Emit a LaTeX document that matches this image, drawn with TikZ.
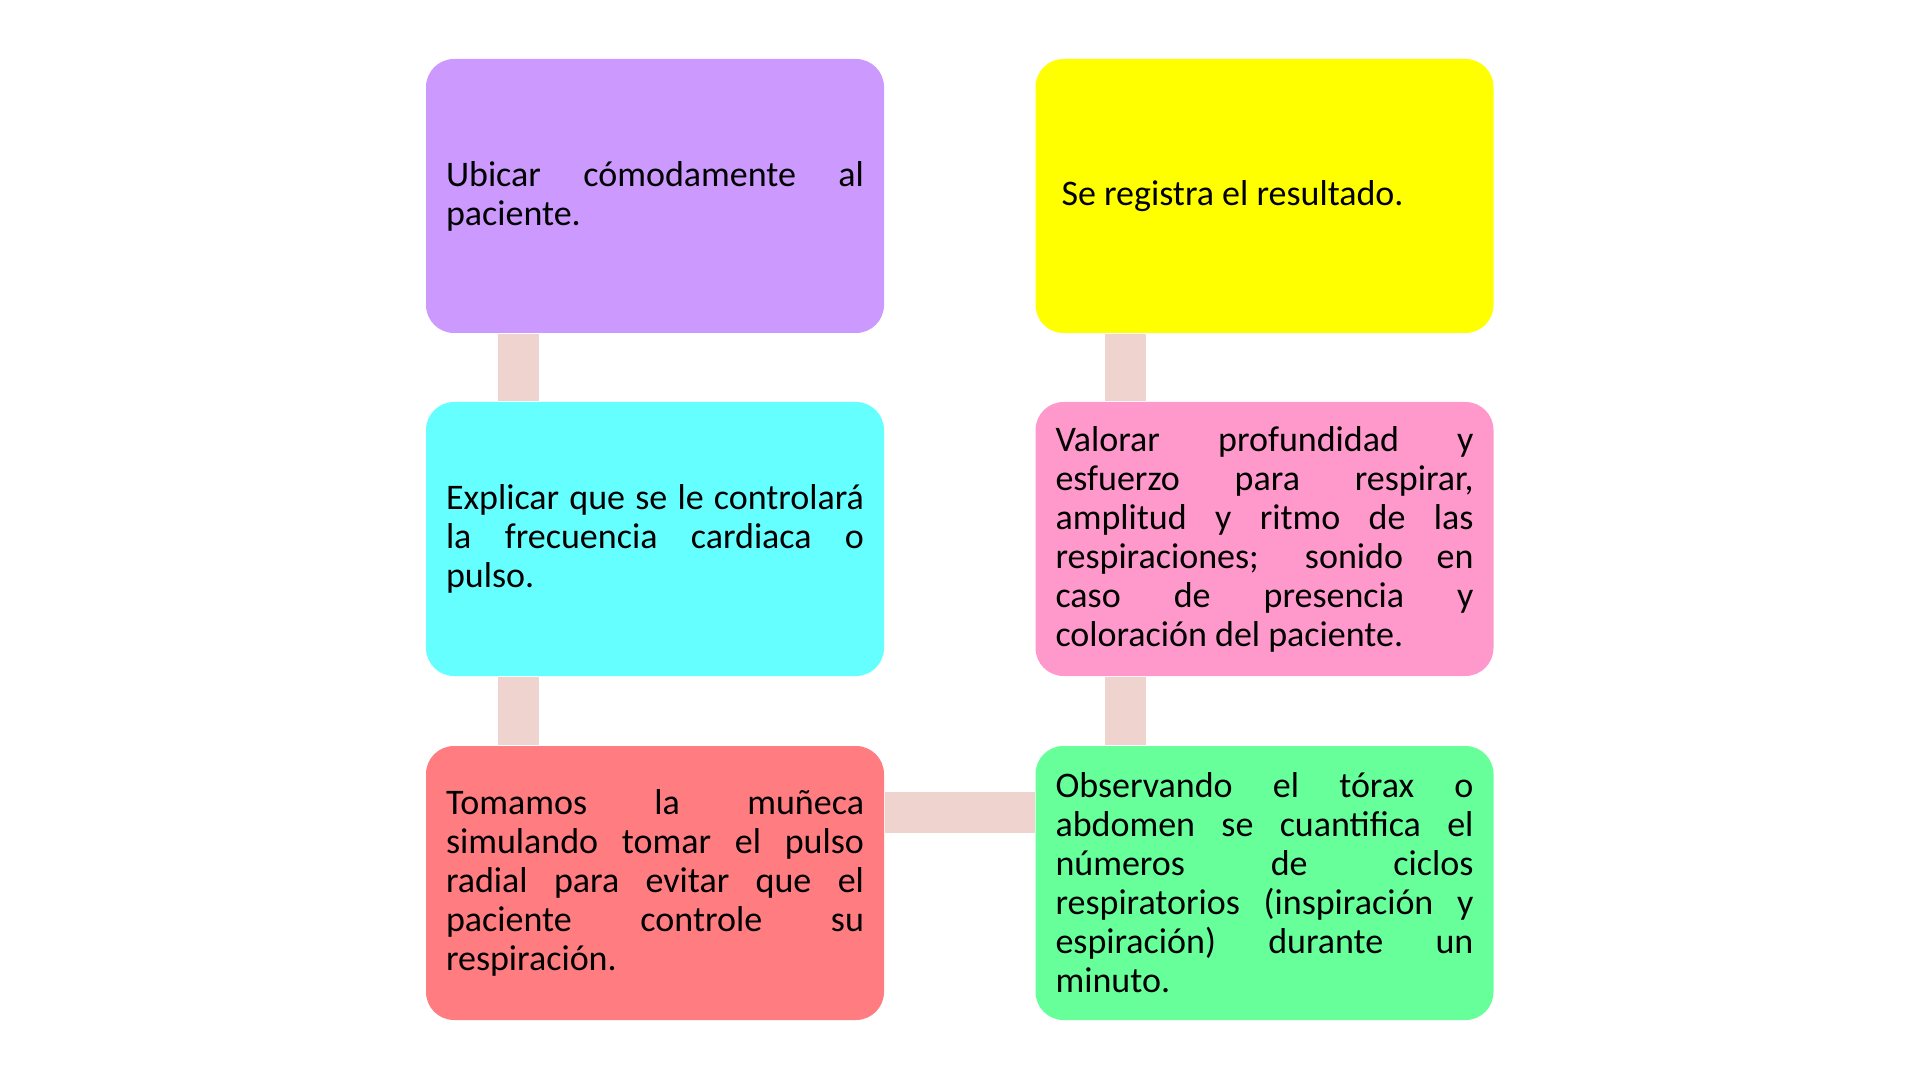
\documentclass[tikz,border=0pt]{standalone}
\usepackage{fontspec}
\setmainfont{Carlito}
\usepackage{tikz}
\tikzset{>=latex}
\definecolor{lila}{HTML}{CC99FF}
\definecolor{amarillo}{HTML}{FFFF00}
\definecolor{celeste}{HTML}{66FFFF}
\definecolor{rosa}{HTML}{FF99CC}
\definecolor{salmon}{HTML}{FF7C80}
\definecolor{verde}{HTML}{66FF99}
\definecolor{enlacecol}{HTML}{EED3CE}
\hyphenpenalty=10000
\exhyphenpenalty=10000
\tolerance=9999
\setlength{\parindent}{0pt}
\tikzset{paso/.style={rounded corners=0.28cm, minimum width=4.58cm, minimum height=2.74cm,
    inner xsep=0.2cm, text width=4.18cm, align=justify,
    font=\fontsize{10.24}{11.1}\selectfont},
  enlace/.style={line width=0.41cm, draw=enlacecol}}

\begin{document}
\begin{tikzpicture}
\useasboundingbox (0, 0) rectangle (19.2, -10.8); % page size

\node[paso, fill=lila] (ubicar) at (6.55, -1.96)
{Ubicar cómodamente al\linebreak paciente.};
\node[paso, fill=celeste] (explicar) at (6.55, -5.39)
{Explicar que se le controlará\linebreak la frecuencia cardiaca o\linebreak pulso.};
\node[paso, fill=salmon] (tomamos) at (6.55, -8.83)
{Tomamos la muñeca\linebreak simulando tomar el pulso\linebreak radial para evitar que el\linebreak paciente controle su\linebreak respiración.};

\node[paso, fill=verde] (observando) at (12.645, -8.83)
{Observando el tórax o\linebreak abdomen se cuantifica el\linebreak números de ciclos\linebreak respiratorios (inspiración y\linebreak espiración) durante un\linebreak minuto.};
\node[paso, fill=rosa] (valorar) at (12.645, -5.39)
{Valorar profundidad y\linebreak esfuerzo para respirar,\linebreak amplitud y ritmo de las\linebreak respiraciones; sonido en\linebreak caso de presencia y\linebreak coloración del paciente.};
\node[paso, fill=amarillo, inner xsep=0.26cm, text width=4.06cm] (registra) at (12.645, -1.96)
{Se registra el resultado.};

\draw[enlace] ([xshift=0.93cm]ubicar.south west) -- ([xshift=0.93cm]explicar.north west);
\draw[enlace] ([xshift=0.93cm]explicar.south west) -- ([xshift=0.93cm]tomamos.north west);
\draw[enlace] ([yshift=0.705cm]tomamos.east) -- ([yshift=0.705cm]observando.west);
\draw[enlace] ([xshift=0.91cm]observando.north west) -- ([xshift=0.91cm]valorar.south west);
\draw[enlace] ([xshift=0.91cm]valorar.north west) -- ([xshift=0.91cm]registra.south west);

\end{tikzpicture}
\end{document}
